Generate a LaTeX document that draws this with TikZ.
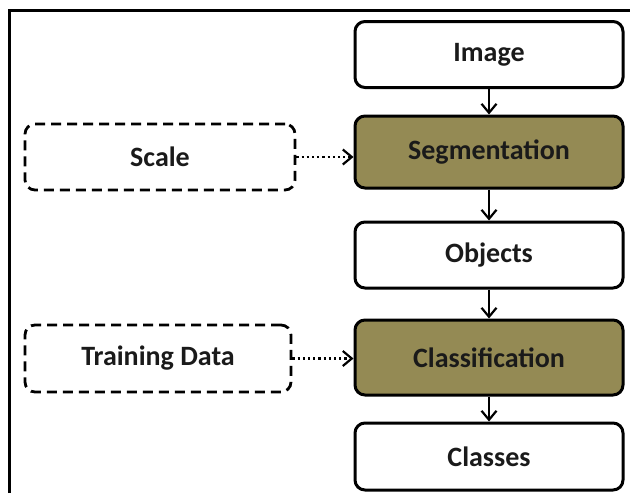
\documentclass[tikz,border=0pt]{standalone}
\usepackage{fontspec}
\setmainfont{Carlito}
\usetikzlibrary{arrows.meta}
\definecolor{olive}{HTML}{948A54}
\definecolor{txt}{HTML}{1A1A1A}
\tikzset{
  base/.style={rounded corners=5pt, line width=1.5pt, align=center,
    font=\fontsize{14}{16}\selectfont\bfseries, text=txt, inner sep=0pt},
  plainbox/.style={base, draw=black, fill=white, minimum width=134pt},
  olivebox/.style={base, draw=black, fill=olive, minimum width=134pt},
  dashbox/.style={base, draw=black, dash pattern=on 5pt off 3pt, line width=1.4pt},
  flow/.style={line width=1.1pt, -{Straight Barb[length=4.5pt,width=7.5pt,line width=1.1pt]}},
  dotflow/.style={line width=1.1pt, dash pattern=on 1.1pt off 1.5pt, -{Straight Barb[length=4.5pt,width=7.5pt,line width=1.1pt]}}
}
\begin{document}
\begin{tikzpicture}[x=0.5pt,y=-0.5pt]
\useasboundingbox (0,0) rectangle (630,493);
\draw[line width=1.5pt] (9,493) -- (9,10) -- (630,10);
\node[plainbox, minimum height=33pt] (img) at (489,54.5) {Image};
\node[olivebox, minimum height=36pt] (seg) at (489,152) {Segmentation};
\node[plainbox, minimum height=33pt] (obj) at (489,255) {Objects};
\node[olivebox, minimum height=37.5pt] (cls) at (489,357.5) {Classification};
\node[plainbox, minimum height=33.5pt] (out) at (489,456.5) {Classes};
\node[dashbox, minimum width=135pt, minimum height=33pt] (scale) at (160,157) {Scale};
\node[dashbox, minimum width=133pt, minimum height=33.5pt] (train) at (158,358.5) {Training Data};
\draw[flow] (img) -- (seg);
\draw[flow] (seg) -- (obj);
\draw[flow] (obj) -- (cls);
\draw[flow] (cls) -- (out);
\draw[dotflow] (scale.east) -- (scale.east -| seg.west);
\draw[dotflow] (train.east) -- (train.east -| cls.west);
\end{tikzpicture}
\end{document}
